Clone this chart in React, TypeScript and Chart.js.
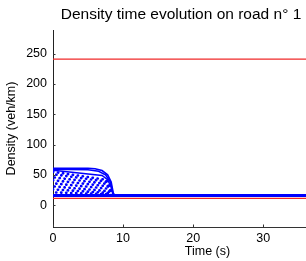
import React, { useEffect, useRef } from "react";
import { Chart, registerables } from "chart.js";

Chart.register(...registerables);

const titleText = "Density time evolution on road n\u00b0 1";
const xLabel = "Time (s)";
const yLabel = "Density (veh/km)";

const xTicks = [0, 10, 20, 30, 40];
const yTicks = [0, 50, 100, 150, 200, 250];
const xLimits = [0, 44.1];
const yLimits = [-36.15, 289.2];

const jamDensity = 241;
const lowReference = 11;
const steadyDensity = 16;

// density curves (time s, density veh/km)
const curveA = [[0, 61], [5, 61], [6, 60], [7, 57], [7.8, 50], [8.3, 38], [8.6, 20], [8.8, 16]];
const curveB = [[0, 59.5], [5, 58.5], [6.5, 56], [7.5, 50], [8.2, 38], [8.5, 22], [8.7, 16]];
const curveC = [[0, 57.5], [7, 49], [7.8, 42], [8.3, 30], [8.6, 16]];
const curveD = [[0, 55], [7.5, 42], [8.2, 32], [8.6, 16]];
const curveE = [[0, 51], [7.5, 39], [8.3, 26], [8.6, 16]];
const curveF = [[0, 46], [7.7, 35], [8.3, 24], [8.6, 16]];
const curveG = [[0, 41], [7.8, 31], [8.4, 20], [8.6, 16]];
const curveH = [[0, 36], [8, 27], [8.5, 16]];
const curveI = [[0, 31], [8, 23], [8.5, 16]];
const curveJ = [[0, 26], [8, 20], [8.4, 16]];
const curveK = [[0, 21], [8, 18], [8.3, 16]];

const solidCurves = [curveA, curveB, curveC];
const dottedCurves = [curveD, curveE, curveF, curveG, curveH, curveI, curveJ, curveK];

const FONT = "'Liberation Sans', Arial, Helvetica, sans-serif";
const BLUE = "rgb(0,0,255)";
const RED = "rgb(240,40,40)";

const toPts = (c: number[][]) => c.map(([x, y]) => ({ x, y }));
const flat = (v: number) => [{ x: xLimits[0], y: v }, { x: xLimits[1], y: v }];

const inwardTicks = {
  id: "inwardTicks",
  afterDraw(chart: any) {
    const { ctx, chartArea, scales } = chart;
    ctx.save();
    ctx.strokeStyle = "#333";
    ctx.lineWidth = 1;
    ctx.beginPath();
    for (const v of xTicks) {
      const px = Math.round(scales.x.getPixelForValue(v)) + 0.5;
      if (px > chartArea.right) continue;
      ctx.moveTo(px, chartArea.bottom);
      ctx.lineTo(px, chartArea.bottom - 2.5);
    }
    for (const v of yTicks) {
      const py = Math.round(scales.y.getPixelForValue(v)) + 0.5;
      ctx.moveTo(chartArea.left, py);
      ctx.lineTo(chartArea.left + 2.5, py);
    }
    ctx.stroke();
    ctx.restore();
  },
};

export default function App() {
  const ref = useRef<HTMLCanvasElement | null>(null);
  useEffect(() => {
    document.body.style.margin = "0";
    if (!ref.current) return;
    const datasets: any[] = [];
    datasets.push({ data: flat(jamDensity), borderColor: RED, borderWidth: 1.2, pointRadius: 0 });
    datasets.push({ data: flat(lowReference), borderColor: RED, borderWidth: 1.2, pointRadius: 0 });
    dottedCurves.forEach((c, i) => {
      datasets.push({
        data: toPts(c),
        borderColor: BLUE,
        borderWidth: 2.6,
        borderDash: [0.3, 4.7],
        borderDashOffset: (i * 1.7) % 5,
        borderCapStyle: "round",
        pointRadius: 0,
      });
    });
    for (const c of solidCurves) {
      datasets.push({ data: toPts(c), borderColor: BLUE, borderWidth: 1.6, pointRadius: 0 });
    }
    datasets.push({ data: flat(steadyDensity), borderColor: BLUE, borderWidth: 3, pointRadius: 0 });

    const tickFont = { family: FONT, size: 12.5 };
    const chart = new Chart(ref.current, {
      type: "line",
      data: { datasets },
      plugins: [inwardTicks],
      options: {
        responsive: false,
        animation: false,
        events: [],
        layout: { padding: 0 },
        plugins: {
          legend: { display: false },
          tooltip: { enabled: false },
          title: {
            display: true,
            text: titleText,
            color: "#000",
            font: { family: FONT, size: 15.5, weight: "normal" },
            padding: { top: 5, bottom: 6.4 },
          },
        },
        scales: {
          x: {
            type: "linear",
            min: xLimits[0],
            max: xLimits[1],
            afterBuildTicks: (s: any) => { s.ticks = xTicks.map((v) => ({ value: v })); },
            afterFit: (s: any) => { s.height = 34; },
            grid: { display: false, drawTicks: false },
            border: { display: true, color: "#333", width: 1 },
            ticks: { color: "#000", font: tickFont, padding: 4, maxRotation: 0, autoSkip: false },
            title: { display: true, text: xLabel, color: "#000", font: tickFont, padding: { top: 0, bottom: 1.5 } },
          },
          y: {
            type: "linear",
            min: yLimits[0],
            max: yLimits[1],
            afterBuildTicks: (s: any) => { s.ticks = yTicks.map((v) => ({ value: v })); },
            afterFit: (s: any) => { s.width = 53; },
            grid: { display: false, drawTicks: false },
            border: { display: true, color: "#222", width: 1 },
            ticks: { color: "#000", font: tickFont, padding: 6, autoSkip: false },
            title: { display: true, text: yLabel, color: "#000", font: tickFont, padding: { top: 4.5, bottom: 0 } },
          },
        },
      } as any,
    });
    return () => chart.destroy();
  }, []);
  return (
    <div style={{ width: 306, height: 261, overflow: "hidden", position: "relative" }}>
      <canvas ref={ref} width={362} height={261} style={{ width: 362, height: 261, display: "block" }} />
    </div>
  );
}
